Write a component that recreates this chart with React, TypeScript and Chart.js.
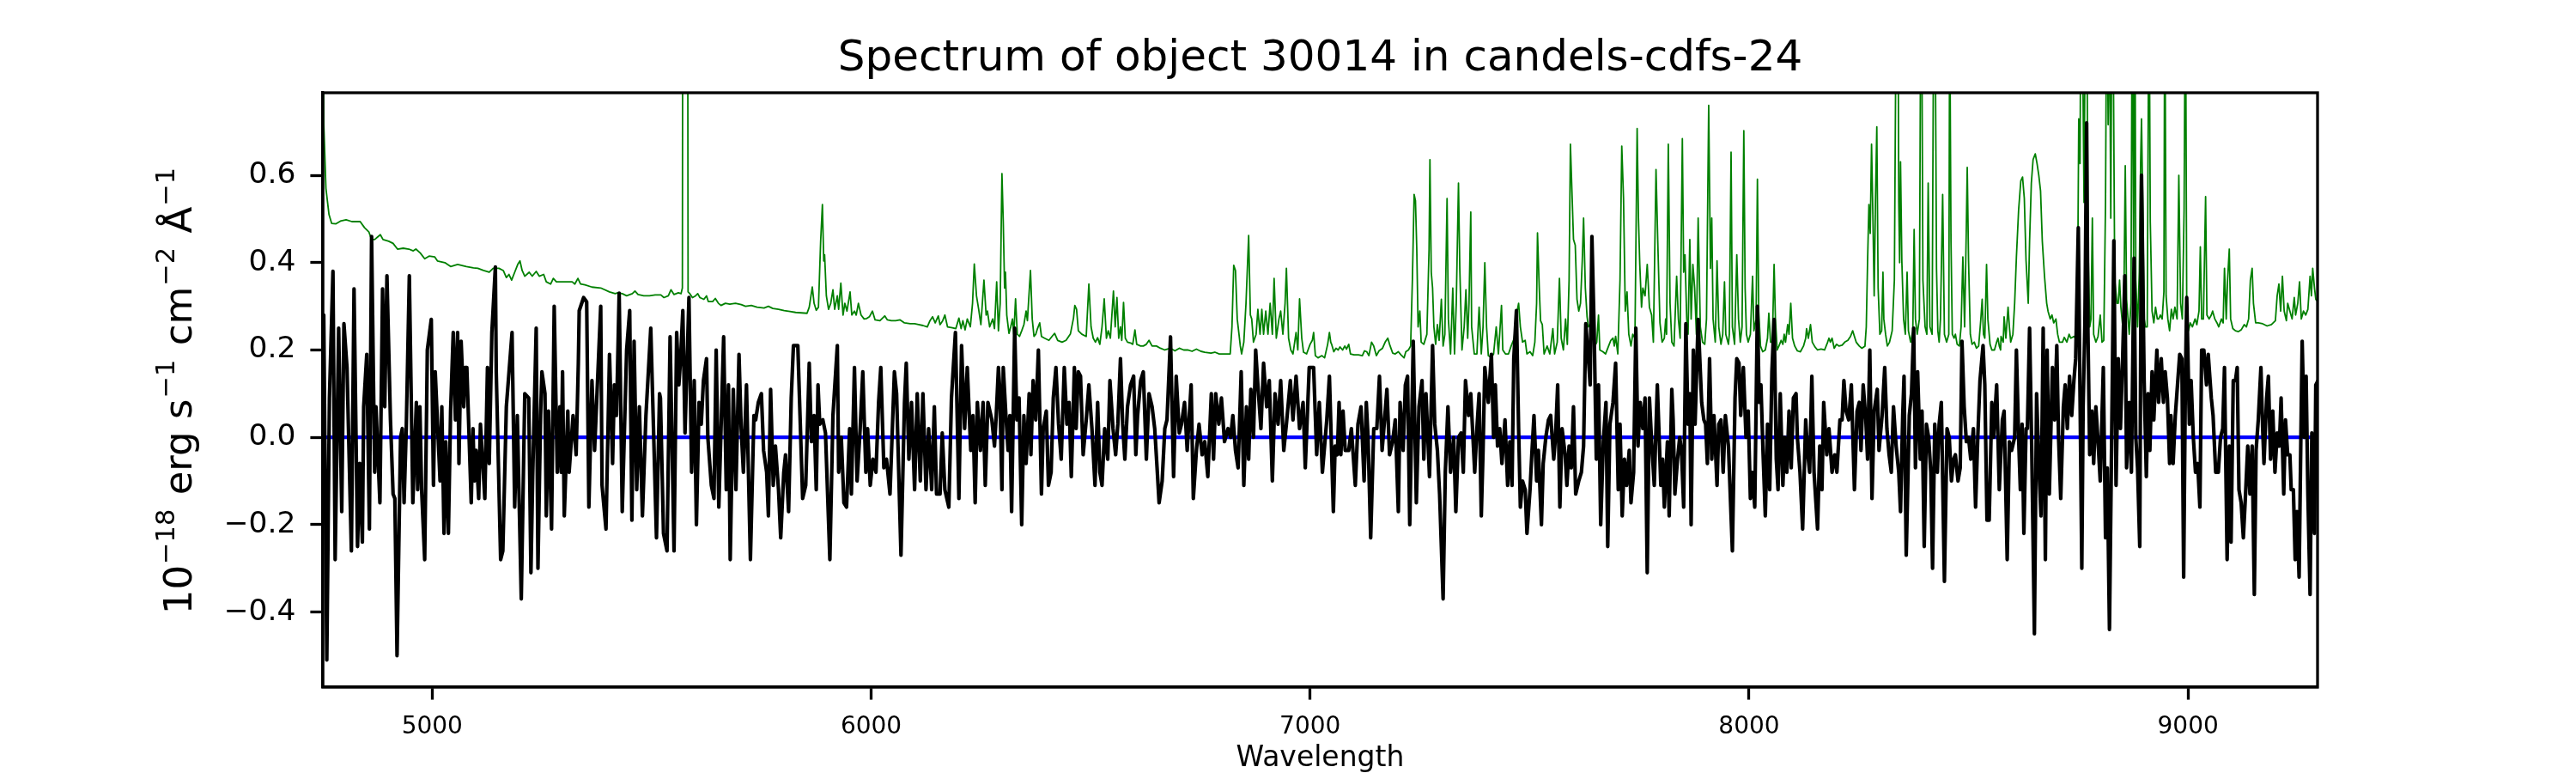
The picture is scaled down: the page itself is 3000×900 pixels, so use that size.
import React, { useEffect, useRef } from "react";
import { Chart, registerables } from "chart.js";

Chart.register(...registerables);

const TITLE = "Spectrum of object 30014 in candels-cdfs-24";
const X_LABEL = "Wavelength";
const Y_LABEL_PARTS: [string, boolean][] = [
  ["10", false],
  ["\u221218", true],
  [" erg s", false],
  ["\u22121", true],
  [" cm", false],
  ["\u22122", true],
  [" \u00c5", false],
  ["\u22121", true],
];
const X_TICKS = [5000, 6000, 7000, 8000, 9000];
const Y_TICKS = [-0.4, -0.2, 0, 0.2, 0.4, 0.6];
const X_RANGE = [4751, 9295];
const Y_RANGE = [-0.572, 0.789];
const ZERO_LEVEL: number[][] = [[4751, 0], [9296, 0]];

// Black: object flux, [wavelength, flux]
const FLUX_A: number[][] = [[4751,0.10],[4753,0.28],[4760,-0.51],[4766,0.09],[4774,0.38],[4779,-0.28],[4787,0.25],[4794,-0.17],[4799,0.26],[4806,0.16],[4816,-0.26],[4822,0.34],[4830,-0.25],[4835,-0.06],[4841,-0.24],[4844,0.07],[4851,0.19],[4857,-0.21],[4862,0.46],[4869,-0.08],[4872,0.07],[4881,-0.15],[4887,0.34],[4892,0.07],[4897,0.37],[4905,0.04],[4911,-0.13],[4915,-0.14],[4920,-0.50],[4928,0.0],[4932,0.02],[4936,-0.15],[4941,0.02],[4948,0.37],[4956,-0.15],[4964,0.08],[4967,-0.12],[4972,0.07],[4976,-0.12],[4983,-0.28],[4989,0.20],[4998,0.27],[5003,-0.11],[5007,0.15],[5018,-0.10],[5022,0.07],[5027,-0.22],[5031,-0.01],[5037,-0.22],[5042,0.06],[5048,0.24],[5053,0.04],[5058,0.24],[5061,-0.06],[5066,0.22],[5072,0.07],[5075,0.16],[5079,0.16],[5089,-0.15],[5093,0.02],[5096,-0.10],[5100,-0.03],[5106,-0.14],[5110,0.03],[5120,-0.14],[5126,0.16],[5130,-0.06],[5136,0.24],[5144,0.39],[5146,0.15],[5156,-0.28],[5161,-0.26],[5169,0.07],[5182,0.24],[5188,-0.16],[5194,0.05],[5203,-0.37],[5211,0.10],[5220,0.09],[5225,-0.31],[5229,-0.09],[5237,0.25],[5241,-0.30],[5247,0.05],[5250,0.15],[5257,0.10],[5260,-0.18],[5265,0.06],[5272,-0.21],[5278,0.30],[5285,-0.08],[5291,0.07],[5294,-0.08],[5297,0.15],[5301,-0.18],[5309,0.06],[5312,-0.08],[5321,0.05],[5328,-0.04],[5333,0.17],[5335,0.29],[5345,0.32],[5352,0.31],[5357,-0.16],[5364,0.13],[5370,-0.03],[5384,0.30],[5387,-0.11],[5396,-0.21],[5404,0.19],[5411,-0.06],[5415,0.12],[5420,0.05],[5426,0.33],[5433,-0.17],[5443,0.20],[5450,0.29],[5455,-0.19],[5460,0.22],[5466,-0.12],[5472,0.07],[5479,-0.18],[5487,0.05],[5498,0.25],[5511,-0.23],[5518,0.10]];
const FLUX_B: number[][] = [[5520,0.09],[5527,-0.22],[5535,-0.26],[5542,0.23],[5551,-0.26],[5557,0.24],[5562,0.12],[5566,0.18],[5571,0.29],[5576,0.01],[5585,0.32],[5591,-0.08],[5597,0.13],[5602,-0.20],[5608,0.08],[5613,0.03],[5618,0.13],[5625,0.18],[5628,0.0],[5636,-0.11],[5642,-0.14],[5647,0.20],[5653,-0.16],[5664,0.23],[5670,-0.12],[5675,0.12],[5679,-0.28],[5686,0.11],[5692,-0.12],[5699,0.19],[5704,0.02],[5709,-0.08],[5716,0.12],[5725,-0.28],[5733,0.05],[5737,0.04],[5743,0.08],[5750,0.10],[5755,-0.03],[5762,-0.08],[5766,-0.18],[5771,0.11],[5777,-0.11],[5782,-0.02],[5789,-0.12],[5794,-0.23],[5801,-0.08],[5805,-0.04],[5812,-0.17],[5818,0.09],[5823,0.21],[5828,0.21],[5833,0.21],[5838,0.05],[5844,-0.14],[5851,-0.11],[5859,0.17],[5864,-0.01],[5870,0.05],[5875,-0.12],[5879,0.12],[5883,0.03],[5890,0.04],[5896,0.01],[5906,-0.28],[5913,0.05],[5923,0.21],[5926,-0.08],[5932,0.0],[5938,-0.15],[5944,-0.16],[5951,0.02],[5955,-0.13],[5962,0.16],[5968,-0.10],[5975,0.02],[5981,0.15],[5988,-0.08],[5992,0.02],[5998,-0.11],[6004,-0.05],[6011,-0.08],[6017,0.08],[6022,0.16],[6029,-0.07],[6035,-0.05],[6043,-0.13],[6053,0.15],[6058,0.10],[6068,-0.27],[6076,0.08],[6080,0.17],[6086,-0.05],[6092,0.08],[6099,-0.12],[6105,0.10],[6112,-0.10],[6118,0.10],[6125,-0.12],[6131,0.02],[6138,-0.12],[6144,0.07],[6149,-0.13],[6157,-0.13],[6162,0.01],[6168,-0.12],[6177,-0.16],[6183,0.09],[6192,0.24],[6200,-0.14],[6206,0.21],[6213,0.02],[6219,0.16],[6227,-0.03],[6232,0.05],[6237,-0.15],[6242,0.08],[6249,-0.03],[6255,0.08],[6260,-0.11],[6266,0.08],[6275,0.04]];
const FLUX_C: number[][] = [[6281,-0.02],[6285,0.05],[6290,0.16],[6293,0.11],[6298,-0.12],[6301,0.16],[6307,0.05],[6312,-0.03],[6316,0.05],[6320,-0.17],[6327,0.25],[6332,0.04],[6337,0.09],[6343,-0.20],[6348,0.05],[6353,-0.06],[6360,0.10],[6364,-0.04],[6369,0.13],[6375,0.04],[6381,0.20],[6388,-0.13],[6392,0.02],[6399,0.06],[6404,-0.11],[6410,-0.08],[6415,0.09],[6421,0.16],[6427,0.03],[6433,-0.05],[6440,0.16],[6446,0.03],[6451,0.08],[6456,-0.09],[6463,0.16],[6467,0.02],[6472,0.15],[6477,0.14],[6483,-0.04],[6490,0.04],[6496,0.12],[6503,0.02],[6510,-0.11],[6516,0.08],[6521,-0.08],[6526,-0.11],[6532,0.02],[6539,-0.05],[6544,0.13],[6551,0.02],[6557,-0.04],[6562,0.03],[6568,0.18],[6573,0.03],[6578,-0.05],[6584,0.07],[6591,0.12],[6598,0.14],[6603,-0.04],[6607,0.05],[6614,0.13],[6620,0.15],[6627,-0.05],[6633,0.10],[6640,0.07],[6646,0.02],[6652,-0.08],[6656,-0.15],[6663,-0.10],[6669,0.02],[6674,0.04],[6682,0.23],[6689,-0.09],[6695,0.14],[6702,0.01],[6707,0.03],[6714,0.08],[6720,-0.03],[6729,0.12],[6734,-0.14],[6741,-0.03],[6747,0.03],[6754,-0.04],[6760,-0.01],[6767,-0.09],[6775,0.10],[6780,-0.05],[6785,0.10],[6792,0.03],[6798,0.09],[6805,-0.01],[6813,0.02],[6819,0.0],[6824,0.05],[6830,-0.03],[6836,-0.07],[6843,0.15],[6849,-0.11],[6855,0.07],[6860,-0.05],[6865,0.11],[6871,0.0],[6876,0.20],[6881,0.12],[6888,0.02],[6894,0.17],[6901,0.07],[6907,0.13],[6914,-0.10],[6920,0.10],[6927,0.03],[6933,0.13],[6940,-0.03],[6946,0.03],[6955,0.13],[6961,0.04],[6968,0.14],[6976,0.02],[6984,0.08],[6989,-0.07],[6998,0.16],[7008,0.16],[7015,-0.04],[7021,0.08],[7028,-0.08],[7038,0.04],[7044,0.14]];
const FLUX_D: number[][] = [[7053,-0.17],[7057,-0.02],[7062,-0.04],[7066,0.08],[7070,-0.04],[7075,0.06],[7080,-0.03],[7088,-0.03],[7094,0.02],[7103,-0.11],[7109,0.03],[7116,0.07],[7123,-0.10],[7128,0.08],[7132,0.0],[7138,-0.23],[7145,0.02],[7152,0.02],[7158,0.14],[7164,-0.03],[7168,0.02],[7175,0.11],[7181,-0.04],[7188,-0.01],[7194,0.04],[7201,-0.17],[7205,0.08],[7212,-0.03],[7217,0.12],[7222,0.14],[7227,-0.20],[7235,0.22],[7242,-0.15],[7248,0.07],[7255,0.13],[7259,-0.05],[7264,0.10],[7272,-0.09],[7279,0.21],[7284,0.03],[7290,-0.03],[7295,-0.13],[7303,-0.37],[7308,-0.08],[7314,0.07],[7320,-0.08],[7327,0.0],[7332,-0.17],[7338,0.0],[7344,0.01],[7349,-0.08],[7354,0.13],[7361,0.05],[7366,0.10],[7370,0.02],[7375,-0.08],[7380,0.02],[7385,0.10],[7390,-0.18],[7394,-0.03],[7398,0.16],[7406,0.08],[7413,0.19],[7418,0.0],[7422,0.12],[7427,-0.02],[7432,0.02],[7437,-0.06],[7444,0.04],[7450,-0.11],[7455,-0.01],[7460,-0.11],[7464,0.18],[7470,0.29],[7475,0.02],[7479,-0.16],[7484,-0.10],[7490,-0.12],[7494,-0.22],[7501,-0.12],[7505,-0.04],[7510,0.05],[7516,-0.10],[7520,-0.03],[7527,-0.20],[7531,-0.06],[7537,0.0],[7543,0.04],[7548,0.05],[7555,-0.05],[7559,0.0],[7564,0.12],[7569,-0.16],[7574,0.02],[7581,-0.04],[7585,-0.11],[7590,-0.02],[7595,-0.07],[7600,0.07],[7605,-0.13],[7612,-0.10],[7618,-0.08],[7623,-0.02],[7628,0.26],[7634,0.18],[7638,0.12],[7642,0.46],[7647,0.25],[7652,-0.05],[7657,0.12],[7662,-0.20],[7668,-0.01],[7674,0.08],[7678,-0.25],[7683,0.03],[7690,0.08],[7696,0.17],[7702,-0.12],[7706,0.03],[7711,-0.18],[7716,-0.05],[7721,-0.11],[7727,-0.03],[7731,-0.15],[7737,-0.08],[7742,0.25],[7747,-0.02],[7752,0.08],[7758,0.02],[7763,0.09],[7768,-0.31],[7773,0.09],[7778,-0.01],[7784,-0.11],[7791,0.12]];
const FLUX_E: number[][] = [[7799,-0.11],[7803,-0.05],[7807,-0.16],[7814,-0.01],[7818,-0.18],[7824,0.11],[7827,0.04],[7831,-0.13],[7837,-0.05],[7842,0.0],[7846,-0.03],[7851,-0.16],[7856,0.26],[7861,0.03],[7865,0.10],[7868,-0.20],[7873,0.20],[7877,0.03],[7884,0.27],[7889,0.15],[7892,0.08],[7897,0.04],[7901,0.03],[7905,-0.06],[7910,0.18],[7915,-0.05],[7920,0.05],[7927,-0.11],[7931,0.03],[7936,0.04],[7941,-0.08],[7946,0.05],[7953,-0.02],[7962,-0.26],[7968,0.09],[7972,0.18],[7977,0.17],[7981,0.05],[7987,0.16],[7993,0.0],[7998,0.06],[8003,-0.14],[8007,-0.08],[8013,-0.16],[8019,0.30],[8023,0.08],[8027,0.12],[8032,-0.04],[8037,-0.18],[8042,0.03],[8047,-0.12],[8052,0.15],[8057,0.27],[8062,-0.05],[8066,-0.12],[8071,0.10],[8077,-0.11],[8081,0.0],[8086,-0.08],[8091,0.06],[8096,-0.07],[8101,0.09],[8107,0.10],[8110,0.0],[8116,-0.08],[8122,-0.21],[8129,0.04],[8133,-0.03],[8138,-0.08],[8143,0.14],[8148,-0.08],[8156,-0.21],[8161,-0.02],[8166,-0.12],[8170,0.08],[8177,-0.04],[8182,0.02],[8189,-0.08],[8195,-0.04],[8200,-0.08],[8207,0.04],[8212,0.04],[8216,0.13],[8221,0.06],[8227,0.04],[8233,0.12],[8240,-0.12],[8246,0.06],[8251,0.08],[8255,-0.03],[8260,0.12],[8266,0.04],[8270,-0.05],[8275,0.20],[8280,-0.14],[8285,0.06],[8292,0.11],[8296,-0.03],[8303,0.05],[8309,0.16],[8314,0.02],[8319,-0.04],[8324,-0.08],[8329,0.07],[8335,-0.02],[8341,-0.08],[8345,-0.17],[8350,0.05],[8353,0.14],[8358,-0.27],[8365,0.05],[8370,0.10],[8375,0.25],[8379,-0.07],[8384,0.15],[8390,-0.05],[8394,0.06],[8399,-0.25],[8404,0.03],[8409,0.0],[8414,-0.08],[8418,-0.30],[8423,0.03],[8429,-0.08],[8433,0.03],[8438,0.08],[8445,-0.33],[8451,0.02],[8456,0.0],[8461,-0.10],[8466,-0.05],[8470,-0.04],[8476,-0.10],[8481,-0.07],[8485,0.22],[8490,0.07],[8495,-0.01],[8500,0.0],[8505,-0.05],[8511,0.02],[8516,-0.16],[8521,0.0],[8526,0.13],[8533,0.21],[8537,0.12],[8542,-0.19],[8547,-0.19],[8553,0.08],[8557,0.0],[8564,0.12],[8570,-0.12]];
const FLUX_F: number[][] = [[8577,0.04],[8581,0.06],[8588,-0.28],[8593,-0.01],[8598,-0.03],[8605,0.0],[8609,0.20],[8614,0.0],[8618,-0.12],[8622,0.03],[8626,-0.22],[8631,0.02],[8634,0.02],[8639,0.25],[8644,-0.03],[8650,-0.45],[8655,0.10],[8660,-0.06],[8665,-0.18],[8670,0.25],[8675,-0.28],[8679,0.20],[8684,-0.13],[8691,0.16],[8696,0.04],[8701,0.21],[8705,0.0],[8710,-0.14],[8716,0.07],[8720,0.12],[8725,0.02],[8730,0.14],[8735,0.05],[8740,0.13],[8744,0.18],[8750,0.48],[8754,0.09],[8758,-0.30],[8761,0.07],[8765,0.26],[8769,0.72],[8772,0.24],[8776,-0.04],[8781,0.06],[8785,-0.06],[8790,0.07],[8795,-0.01],[8800,-0.10],[8807,0.16],[8812,-0.23],[8816,-0.07],[8821,-0.44],[8827,0.09],[8831,0.45],[8836,-0.11],[8841,0.18],[8846,0.02],[8851,0.18],[8856,0.37],[8860,-0.07],[8866,0.08],[8871,-0.08],[8877,0.41],[8881,0.0],[8885,-0.07],[8890,-0.25],[8894,0.60],[8900,0.13],[8905,-0.09],[8909,0.10],[8913,-0.03],[8918,0.15],[8922,0.04],[8929,0.20],[8933,0.08],[8939,0.18],[8944,0.08],[8948,0.15],[8953,0.09],[8958,-0.06],[8961,0.05],[8966,-0.06],[8971,0.05],[8976,0.12],[8981,0.19],[8986,0.18],[8990,-0.32],[8994,0.13],[8997,0.32],[9003,0.03],[9007,0.13],[9012,0.0],[9017,-0.08],[9022,-0.06],[9027,-0.16],[9031,0.20],[9036,0.20],[9042,0.12],[9046,0.19],[9053,0.09],[9057,0.05],[9063,-0.08],[9069,-0.08],[9074,0.0],[9079,0.02],[9083,0.16],[9089,-0.28],[9094,-0.02],[9098,-0.24],[9103,0.13],[9108,0.13],[9112,0.16],[9116,-0.12],[9121,-0.15],[9126,-0.23],[9131,-0.13],[9136,-0.02],[9141,-0.13],[9146,-0.02],[9151,-0.36],[9155,-0.03],[9160,0.04],[9166,0.16],[9170,0.02],[9173,-0.06],[9179,0.09],[9183,0.14],[9188,-0.05],[9193,0.06],[9198,-0.08],[9203,0.01],[9208,-0.02],[9212,0.09],[9218,-0.13],[9222,0.04],[9227,-0.04],[9232,-0.04],[9235,-0.12],[9240,-0.12],[9244,-0.28],[9248,-0.17],[9253,-0.32],[9257,0.0],[9260,0.22],[9265,0.0],[9269,0.14],[9273,-0.13],[9278,-0.36],[9282,0.01],[9288,-0.22],[9291,0.12],[9296,0.13]];

// Green: sky / noise spectrum, [wavelength, flux]
const SKY_A: number[][] = [[4751,1.0],[4753,0.72],[4758,0.57],[4765,0.51],[4771,0.49],[4781,0.489],[4791,0.495],[4804,0.498],[4817,0.494],[4836,0.494],[4846,0.48],[4856,0.47],[4862,0.453],[4869,0.453],[4875,0.458],[4882,0.464],[4888,0.453],[4901,0.449],[4911,0.444],[4921,0.431],[4934,0.433],[4947,0.431],[4957,0.427],[4963,0.431],[4973,0.422],[4983,0.409],[4993,0.415],[5006,0.413],[5012,0.404],[5029,0.40],[5042,0.391],[5058,0.396],[5078,0.391],[5094,0.388],[5104,0.387],[5117,0.382],[5130,0.378],[5139,0.387],[5152,0.387],[5162,0.382],[5169,0.366],[5175,0.373],[5181,0.36],[5188,0.378],[5195,0.396],[5200,0.404],[5205,0.382],[5211,0.369],[5221,0.378],[5228,0.369],[5237,0.38],[5244,0.369],[5254,0.373],[5260,0.356],[5270,0.351],[5276,0.364],[5283,0.356],[5293,0.356],[5309,0.356],[5319,0.356],[5325,0.351],[5332,0.364],[5338,0.351],[5348,0.349],[5364,0.344],[5384,0.342],[5404,0.333],[5417,0.329],[5423,0.331],[5433,0.329],[5443,0.324],[5456,0.329],[5462,0.335],[5469,0.327],[5482,0.324],[5495,0.324],[5508,0.326],[5521,0.326]];
const SKY_B: number[][] = [[5528,0.32],[5538,0.324],[5544,0.338],[5551,0.327],[5561,0.331],[5567,0.329],[5570,0.342],[5576,6.0],[5583,0.333],[5587,0.329],[5593,0.32],[5600,0.324],[5605,0.329],[5610,0.32],[5619,0.316],[5625,0.324],[5629,0.311],[5639,0.311],[5645,0.318],[5652,0.307],[5658,0.302],[5668,0.307],[5678,0.305],[5691,0.307],[5704,0.304],[5714,0.3],[5727,0.302],[5740,0.298],[5756,0.296],[5766,0.3],[5776,0.295],[5789,0.293],[5802,0.29],[5815,0.288],[5828,0.286],[5841,0.285],[5854,0.284],[5859,0.298],[5866,0.344],[5870,0.307],[5875,0.291],[5880,0.298],[5885,0.449],[5889,0.533],[5892,0.404],[5894,0.418],[5898,0.324],[5903,0.293],[5908,0.307],[5913,0.338],[5917,0.293],[5923,0.324],[5926,0.293],[5931,0.353],[5936,0.28],[5940,0.307],[5945,0.289],[5952,0.333],[5956,0.28],[5962,0.289],[5966,0.28],[5971,0.307],[5977,0.28],[5984,0.271],[5990,0.272],[5996,0.276],[6003,0.289],[6009,0.269],[6020,0.267],[6031,0.278],[6037,0.269],[6046,0.267],[6056,0.267],[6066,0.269],[6076,0.262],[6089,0.26],[6099,0.26],[6108,0.258],[6118,0.256],[6128,0.253],[6134,0.267],[6140,0.276],[6146,0.262],[6153,0.278],[6157,0.258],[6163,0.267],[6168,0.28],[6174,0.253],[6185,0.251],[6193,0.249],[6200,0.273],[6205,0.249],[6209,0.267],[6214,0.246],[6219,0.271],[6226,0.253],[6231,0.307],[6235,0.397],[6240,0.324],[6245,0.293],[6250,0.258],[6257,0.36],[6262,0.28],[6265,0.289],[6270,0.253],[6277,0.271],[6281,0.249]];
const SKY_C: number[][] = [[6286,0.356],[6290,0.244],[6294,0.307],[6298,0.604],[6301,0.493],[6304,0.342],[6306,0.378],[6309,0.28],[6314,0.238],[6318,0.253],[6322,0.271],[6325,0.236],[6329,0.317],[6333,0.236],[6338,0.231],[6343,0.244],[6348,0.258],[6353,0.289],[6356,0.267],[6363,0.382],[6367,0.271],[6371,0.231],[6375,0.236],[6379,0.249],[6384,0.262],[6388,0.231],[6395,0.227],[6405,0.222],[6412,0.231],[6418,0.238],[6425,0.222],[6435,0.218],[6444,0.222],[6454,0.237],[6461,0.273],[6464,0.302],[6468,0.293],[6472,0.244],[6480,0.236],[6490,0.231],[6496,0.351],[6501,0.253],[6506,0.227],[6511,0.218],[6516,0.228],[6521,0.213],[6526,0.253],[6531,0.317],[6536,0.227],[6540,0.244],[6545,0.227],[6552,0.335],[6556,0.253],[6560,0.32],[6564,0.227],[6568,0.253],[6571,0.222],[6575,0.309],[6579,0.227],[6584,0.218],[6591,0.216],[6596,0.213],[6601,0.246],[6605,0.213],[6614,0.209],[6620,0.209],[6627,0.213],[6633,0.222],[6640,0.209],[6650,0.209],[6659,0.204],[6669,0.2],[6682,0.204],[6692,0.198],[6702,0.204],[6712,0.2],[6721,0.2],[6731,0.197],[6741,0.202],[6751,0.197],[6760,0.195],[6774,0.193],[6783,0.195],[6793,0.191],[6806,0.191],[6818,0.191],[6822,0.253],[6826,0.394],[6830,0.382],[6834,0.271],[6838,0.236],[6841,0.209],[6844,0.191],[6849,0.218],[6854,0.307],[6860,0.462],[6864,0.28],[6867,0.271],[6871,0.218],[6877,0.236],[6881,0.293],[6886,0.236],[6890,0.293],[6894,0.236],[6899,0.289],[6904,0.236],[6909,0.307],[6914,0.236],[6918,0.364],[6923,0.227],[6929,0.271],[6933,0.289],[6938,0.236],[6943,0.307],[6946,0.387],[6951,0.227],[6956,0.2],[6961,0.191],[6968,0.24],[6972,0.2],[6976,0.317],[6981,0.227],[6985,0.195],[6992,0.191],[7000,0.213],[7005,0.222],[7008,0.24],[7012,0.187],[7018,0.182],[7027,0.187],[7033,0.182],[7040,0.213],[7044,0.24],[7047,0.218]];
const SKY_D: number[][] = [[7049,0.213],[7054,0.196],[7059,0.204],[7064,0.2],[7068,0.207],[7074,0.2],[7079,0.209],[7083,0.202],[7088,0.213],[7092,0.191],[7100,0.189],[7110,0.189],[7119,0.187],[7124,0.198],[7129,0.196],[7134,0.187],[7140,0.218],[7145,0.209],[7151,0.187],[7157,0.198],[7165,0.204],[7171,0.218],[7177,0.227],[7181,0.213],[7188,0.193],[7194,0.191],[7201,0.196],[7207,0.189],[7214,0.182],[7218,0.196],[7224,0.2],[7229,0.209],[7233,0.36],[7237,0.556],[7240,0.542],[7243,0.431],[7246,0.253],[7250,0.289],[7253,0.218],[7259,0.213],[7266,0.236],[7271,0.431],[7273,0.636],[7276,0.378],[7279,0.342],[7282,0.253],[7286,0.213],[7290,0.258],[7294,0.222],[7299,0.316],[7303,0.209],[7307,0.236],[7312,0.547],[7315,0.271],[7320,0.191],[7325,0.342],[7329,0.191],[7333,0.307],[7338,0.582],[7341,0.387],[7346,0.2],[7351,0.253],[7355,0.338],[7359,0.227],[7362,0.307],[7366,0.516],[7368,0.253],[7374,0.191],[7380,0.191],[7385,0.298],[7390,0.191],[7394,0.253],[7398,0.4],[7402,0.253],[7406,0.187],[7413,0.182],[7418,0.191],[7424,0.253],[7429,0.191],[7436,0.302],[7439,0.2],[7445,0.191],[7452,0.191],[7458,0.209],[7465,0.227],[7470,0.28],[7475,0.307],[7479,0.253],[7484,0.218],[7490,0.222],[7494,0.191],[7501,0.196],[7507,0.187],[7512,0.218],[7516,0.307],[7518,0.468],[7522,0.342],[7525,0.267],[7529,0.258],[7533,0.191],[7540,0.209],[7546,0.191],[7553,0.249],[7557,0.191],[7563,0.218],[7568,0.364],[7572,0.227],[7577,0.2],[7582,0.271],[7586,0.213],[7590,0.36],[7593,0.671],[7597,0.547],[7600,0.453],[7604,0.44],[7608,0.316],[7612,0.289],[7616,0.307],[7620,0.404],[7623,0.502],[7627,0.342],[7631,0.276],[7634,0.253],[7640,0.262],[7644,0.267],[7649,0.209],[7653,0.218],[7657,0.28],[7660,0.2],[7667,0.196],[7673,0.191],[7680,0.209],[7685,0.222],[7690,0.227],[7693,0.209],[7696,0.231],[7701,0.191],[7706,0.36],[7710,0.667],[7714,0.547],[7718,0.289],[7722,0.333],[7726,0.236],[7731,0.209],[7735,0.236],[7740,0.227],[7745,0.707],[7748,0.502],[7751,0.396],[7755,0.298],[7758,0.342],[7763,0.324],[7768,0.396],[7773,0.298],[7778,0.28],[7782,0.218],[7788,0.613],[7792,0.449],[7797,0.262],[7802,0.218],[7807,0.227],[7810,0.271]];
const SKY_E: number[][] = [[7812,0.236],[7816,0.671],[7820,0.307],[7824,0.218],[7829,0.209],[7835,0.369],[7839,0.271],[7843,0.227],[7848,0.684],[7851,0.378],[7854,0.418],[7858,0.271],[7861,0.236],[7865,0.453],[7868,0.271],[7872,0.396],[7876,0.342],[7880,0.236],[7884,0.502],[7889,0.253],[7894,0.218],[7899,0.213],[7903,0.271],[7908,0.76],[7912,0.387],[7915,0.502],[7918,0.271],[7923,0.218],[7927,0.404],[7931,0.253],[7936,0.213],[7940,0.236],[7944,0.356],[7947,0.236],[7953,0.213],[7955,0.236],[7959,0.653],[7962,0.253],[7967,0.213],[7972,0.418],[7976,0.271],[7980,0.218],[7984,0.253],[7988,0.702],[7991,0.342],[7994,0.236],[7998,0.218],[8003,0.236],[8008,0.369],[8011,0.244],[8016,0.271],[8019,0.591],[8022,0.289],[8026,0.209],[8031,0.196],[8037,0.2],[8042,0.227],[8045,0.284],[8049,0.218],[8053,0.218],[8057,0.396],[8060,0.271],[8064,0.2],[8068,0.209],[8073,0.222],[8077,0.213],[8080,0.236],[8083,0.218],[8088,0.258],[8091,0.236],[8095,0.307],[8099,0.227],[8104,0.209],[8110,0.198],[8117,0.196],[8124,0.209],[8129,0.227],[8131,0.249],[8135,0.227],[8140,0.258],[8144,0.218],[8150,0.207],[8156,0.2],[8164,0.202],[8172,0.2],[8179,0.218],[8182,0.227],[8185,0.218],[8189,0.227],[8194,0.204],[8199,0.213],[8205,0.209],[8212,0.211],[8218,0.218],[8225,0.222],[8231,0.231],[8236,0.244],[8240,0.231],[8244,0.218],[8251,0.209],[8257,0.204],[8264,0.209],[8267,0.253],[8270,0.404],[8273,0.533],[8276,0.467],[8279,0.671],[8282,0.511],[8285,0.324],[8288,0.547],[8291,0.711],[8294,0.342],[8298,0.236],[8302,0.244],[8305,0.378],[8307,0.271],[8311,0.236],[8315,0.209],[8320,0.218],[8326,0.244],[8331,0.36],[8335,1.0],[8339,1.1],[8341,0.538],[8343,0.4],[8345,0.631],[8348,0.404],[8352,0.271],[8356,0.236],[8360,0.378],[8363,0.244],[8368,0.218],[8373,0.244],[8376,0.476],[8379,0.271],[8383,0.236],[8388,0.271],[8391,1.0],[8393,1.05],[8396,0.36],[8401,0.253],[8405,0.236],[8408,0.582],[8412,0.253],[8417,0.236],[8421,1.1],[8424,0.95],[8427,0.387],[8430,0.244],[8433,0.218],[8436,0.271],[8441,0.556],[8445,0.236],[8450,0.218],[8455,0.236],[8457,1.0],[8460,0.449],[8463,0.236],[8467,0.227],[8470,0.236],[8474,0.213],[8479,0.209],[8483,0.253],[8487,0.413],[8491,0.253],[8495,0.484],[8497,0.618],[8500,0.404],[8504,0.236],[8508,0.213],[8513,0.218],[8518,0.204],[8523,0.209],[8528,0.271],[8531,0.316],[8534,0.236],[8537,0.227],[8541,0.396],[8544,0.271],[8549,0.213],[8553,0.2],[8559,0.2],[8564,0.218],[8567,0.227],[8570,0.209],[8573,0.2]];
const SKY_F: number[][] = [[8574,0.231],[8579,0.218],[8581,0.276],[8585,0.227],[8590,0.298],[8593,0.253],[8596,0.218],[8601,0.236],[8605,0.307],[8609,0.413],[8614,0.52],[8619,0.587],[8623,0.596],[8627,0.547],[8631,0.404],[8636,0.307],[8639,0.449],[8643,0.582],[8647,0.636],[8652,0.649],[8656,0.627],[8660,0.6],[8664,0.564],[8668,0.449],[8673,0.369],[8678,0.307],[8681,0.289],[8686,0.271],[8690,0.28],[8694,0.262],[8699,0.271],[8703,0.236],[8707,0.218],[8714,0.218],[8718,0.229],[8724,0.218],[8729,0.236],[8733,0.227],[8740,0.231],[8744,0.227],[8748,0.271],[8751,0.729],[8754,0.627],[8756,1.1],[8759,1.0],[8763,0.538],[8766,1.0],[8769,1.1],[8772,0.449],[8776,0.253],[8779,0.271],[8782,0.502],[8785,0.236],[8790,0.218],[8795,0.231],[8800,0.28],[8804,0.218],[8808,0.222],[8812,0.538],[8815,1.1],[8818,0.716],[8821,1.0],[8824,0.502],[8827,1.1],[8829,1.0],[8833,0.36],[8838,0.307],[8841,0.307],[8844,0.36],[8847,0.298],[8853,0.236],[8857,0.622],[8860,0.316],[8866,0.236],[8870,0.307],[8873,1.1],[8876,0.396],[8879,1.05],[8881,0.36],[8885,0.253],[8889,0.378],[8892,0.627],[8894,0.729],[8897,0.52],[8900,0.271],[8903,0.253],[8907,0.253],[8911,1.1],[8914,0.493],[8918,0.289],[8922,0.262],[8926,0.298],[8930,0.271],[8933,0.271],[8937,0.28],[8941,0.271],[8945,0.333],[8947,1.1],[8950,0.324],[8954,0.271],[8958,0.244],[8962,0.293],[8966,0.271],[8970,0.298],[8975,0.271],[8979,0.6],[8983,0.307],[8987,0.271],[8991,0.52],[8994,1.1],[8997,0.307],[9001,0.244],[9005,0.262],[9010,0.253],[9016,0.271],[9020,0.258],[9025,0.289],[9028,0.436],[9031,0.271],[9035,0.271],[9040,0.551],[9043,0.28],[9048,0.271],[9053,0.28],[9056,0.289],[9061,0.271],[9066,0.262],[9070,0.253],[9076,0.271],[9080,0.262],[9083,0.387],[9087,0.271],[9090,0.36],[9094,0.431],[9097,0.271],[9102,0.249],[9108,0.244],[9115,0.242],[9121,0.246],[9128,0.258],[9133,0.253],[9138,0.271],[9142,0.36],[9146,0.387],[9149,0.307],[9154,0.262],[9160,0.262],[9170,0.26],[9180,0.255],[9190,0.258],[9199,0.267],[9203,0.324],[9207,0.351],[9211,0.289],[9215,0.369],[9219,0.289],[9224,0.267],[9227,0.307],[9232,0.289],[9237,0.271],[9242,0.32],[9245,0.28],[9250,0.307],[9254,0.356],[9258,0.271],[9263,0.289],[9268,0.28],[9273,0.293],[9278,0.369],[9281,0.324],[9284,0.387],[9288,0.342],[9291,0.316],[9296,0.311]];

const FONT = '"DejaVu Sans"';

const toPoints = (rows: number[][]) => rows.map(([x, y]) => ({ x, y }));
const fmtY = (v: number) => (v < 0 ? "\u2212" + Math.abs(v).toFixed(1) : v.toFixed(1));

const textPlugin = {
  id: "mplTexts",
  afterDraw(chart: any) {
    const { ctx, chartArea } = chart;
    const { left, right, top, bottom } = chartArea;
    ctx.save();
    // axes frame (all four spines)
    ctx.strokeStyle = "#000000";
    ctx.lineWidth = 3.3;
    ctx.strokeRect(left, top, right - left, bottom - top);
    ctx.fillStyle = "#000000";
    ctx.textBaseline = "alphabetic";
    // title
    ctx.textAlign = "center";
    ctx.font = `50px ${FONT}`;
    ctx.fillText(TITLE, (left + right) / 2, top - 26);
    // x label
    ctx.font = `33px ${FONT}`;
    ctx.fillText(X_LABEL, (left + right) / 2, bottom + 92);
    // y label (rotated, with superscripts)
    ctx.translate(left - 153, (top + bottom) / 2);
    ctx.rotate(-Math.PI / 2);
    ctx.textAlign = "left";
    const mainFont = `45px ${FONT}`;
    const supFont = `30.5px ${FONT}`;
    const gapBefore = 1;
    const gapAfter = 2;
    let total = 0;
    for (const [t, sup] of Y_LABEL_PARTS) {
      ctx.font = sup ? supFont : mainFont;
      total += ctx.measureText(t).width + (sup ? gapBefore + gapAfter : 0);
    }
    let x = -total / 2;
    for (const [t, sup] of Y_LABEL_PARTS) {
      ctx.font = sup ? supFont : mainFont;
      const w = ctx.measureText(t).width;
      if (sup) {
        ctx.fillText(t, x + gapBefore, -20);
        x += w + gapBefore + gapAfter;
      } else {
        ctx.fillText(t, x, 0);
        x += w;
      }
    }
    ctx.restore();
  },
};

export default function App() {
  const canvasRef = useRef<HTMLCanvasElement | null>(null);

  useEffect(() => {
    const canvas = canvasRef.current;
    if (!canvas) return;
    const flux = toPoints([...FLUX_A, ...FLUX_B, ...FLUX_C, ...FLUX_D, ...FLUX_E, ...FLUX_F]);
    const sky = toPoints([...SKY_A, ...SKY_B, ...SKY_C, ...SKY_D, ...SKY_E, ...SKY_F]);
    const zero = toPoints(ZERO_LEVEL);

    const chart = new Chart(canvas, {
      type: "line",
      data: {
        datasets: [
          {
            data: flux,
            borderColor: "#000000",
            borderWidth: 4.2,
            pointRadius: 0,
            tension: 0,
            fill: false,
            clip: 0,
            borderJoinStyle: "round",
          },
          {
            data: zero,
            borderColor: "#0000ff",
            borderWidth: 4.2,
            pointRadius: 0,
            fill: false,
            clip: 0,
          },
          {
            data: sky,
            borderColor: "#008000",
            borderWidth: 1.8,
            pointRadius: 0,
            tension: 0,
            fill: false,
            clip: 0,
            borderJoinStyle: "round",
          },
        ],
      } as any,
      options: {
        animation: false,
        responsive: false,
        devicePixelRatio: 1,
        events: [],
        layout: { padding: { left: 0, top: 108, right: 301, bottom: 0 } },
        plugins: {
          legend: { display: false },
          title: { display: false },
          tooltip: { enabled: false },
        },
        scales: {
          x: {
            type: "linear",
            min: X_RANGE[0],
            max: X_RANGE[1],
            afterFit: (s: any) => {
              s.height = 100;
            },
            afterBuildTicks: (s: any) => {
              s.ticks = X_TICKS.map((v) => ({ value: v }));
            },
            grid: {
              display: true,
              drawOnChartArea: false,
              drawTicks: true,
              tickLength: 14.6,
              tickWidth: 3.3,
              tickColor: "#000000",
            },
            border: { display: true, color: "#000000", width: 3.3 },
            ticks: {
              color: "#000000",
              font: { family: "DejaVu Sans", size: 28 },
              padding: 15,
              maxRotation: 0,
              autoSkip: false,
              callback: (v: any) => String(v),
            },
          },
          y: {
            type: "linear",
            min: Y_RANGE[0],
            max: Y_RANGE[1],
            afterFit: (s: any) => {
              s.width = 376;
            },
            afterBuildTicks: (s: any) => {
              s.ticks = Y_TICKS.map((v) => ({ value: v }));
            },
            grid: {
              display: true,
              drawOnChartArea: false,
              drawTicks: true,
              tickLength: 14.6,
              tickWidth: 3.3,
              tickColor: "#000000",
            },
            border: { display: true, color: "#000000", width: 3.3 },
            ticks: {
              color: "#000000",
              font: { family: "DejaVu Sans", size: 34.5 },
              padding: 17,
              autoSkip: false,
              callback: (v: any) => fmtY(Number(v)),
            },
          },
        },
      } as any,
      plugins: [textPlugin],
    });

    return () => {
      chart.destroy();
    };
  }, []);

  return (
    <div style={{ position: "absolute", left: 0, top: 0, width: 3000, height: 900, background: "#ffffff" }}>
      <canvas ref={canvasRef} width={3000} height={900} style={{ display: "block", width: 3000, height: 900 }} />
    </div>
  );
}
